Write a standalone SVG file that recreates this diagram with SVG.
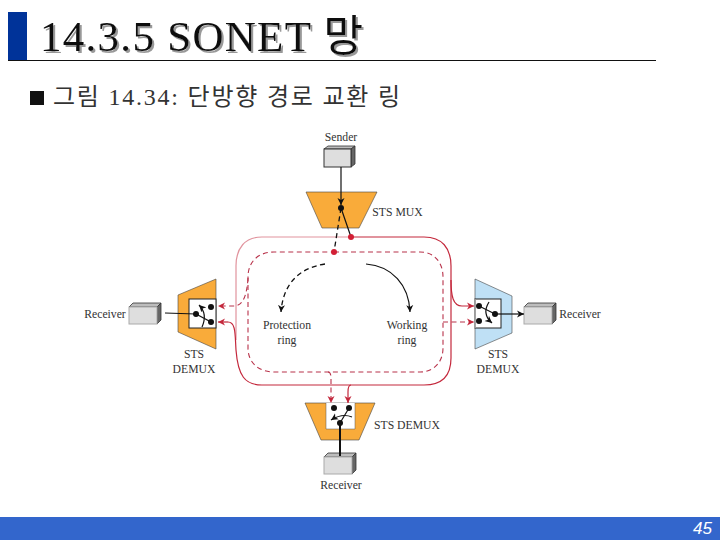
<svg xmlns="http://www.w3.org/2000/svg" width="720" height="540" viewBox="0 0 720 540">
<style>
.lb{font-family:"Liberation Serif",serif;font-size:11.7px;fill:#333;text-anchor:middle}
.ti{font-family:"Liberation Serif","Noto Sans CJK KR",serif;font-size:43px;fill:#111}
.su{font-family:"Liberation Serif","Noto Sans CJK KR",serif;font-size:24px;fill:#333}
.r{fill:none;stroke:#c4283c;stroke-width:1.2}
.rd{fill:none;stroke:#b8324a;stroke-width:1.1;stroke-dasharray:5 3.5}
.k{fill:none;stroke:#111;stroke-width:1.2}
.kd{fill:none;stroke:#111;stroke-width:1.3;stroke-dasharray:5 3.5}
.dot{fill:#111}
.rdot{fill:#d21f35}
.or{fill:#f9ab3a;stroke:#444;stroke-width:.6}
.wb{fill:#fff;stroke:#222;stroke-width:1}
.front{fill:#dedede;stroke:#333;stroke-width:1}
.top{fill:#bdbdbd;stroke:#333;stroke-width:.8}
.side{fill:#666;stroke:#333;stroke-width:.8}
</style>
<defs>
<marker id="ak" markerWidth="8" markerHeight="8" refX="7" refY="4" orient="auto" markerUnits="userSpaceOnUse"><path d="M0 0.5L7 4L0 7.5L2 4Z" fill="#111"/></marker>
<marker id="ar" markerWidth="8" markerHeight="8" refX="7" refY="4" orient="auto" markerUnits="userSpaceOnUse"><path d="M0 0.5L7 4L0 7.5L2 4Z" fill="#c4283c"/></marker>
<filter id="sh" x="-5%" y="-20%" width="110%" height="140%"><feDropShadow dx="2" dy="2" stdDeviation="0.6" flood-color="#999"/></filter>
</defs>

<g id="header">
<rect x="8" y="12" width="19" height="48" fill="#003399"/>
<line x1="8" y1="60.500" x2="656" y2="60.500" stroke="#111" stroke-width="1.200"/>
<text class="ti" x="40" y="51" textLength="323" lengthAdjust="spacing" filter="url(#sh)">14.3.5 SONET 망</text>
<rect x="30" y="91" width="14" height="14" fill="#111"/>
<text class="su" x="53" y="105" textLength="347" lengthAdjust="spacing">그림 14.34: 단방향 경로 교환 링</text>
</g>

<g id="sender">
<path class="top" d="M324 149L328 146H355L351 149Z"/><path class="side" d="M351 149L355 146V164L351 167Z"/><rect class="front" x="324" y="149" width="27" height="18"/>
<text class="lb" x="341" y="141">Sender</text>
</g>

<g id="sts-mux">
<path class="or" d="M306 192H377L359 228H322Z"/>
<text class="lb" x="397.500" y="216">STS MUX</text>
</g>

<g id="demux-left">
<path class="or" d="M178 295L216 279V349L178 332Z"/>
<rect class="wb" x="189" y="299" width="27" height="29"/>
<text class="lb" x="194" y="358">STS</text><text class="lb" x="194" y="373">DEMUX</text>
</g>
<g id="receiver-left">
<path class="top" d="M129 307L133 303H161L157 307Z"/><path class="side" d="M157 307L161 303V320L157 324Z"/><rect x="129" y="307" width="28" height="17" fill="#dedede" stroke="#aaa"/>
<text class="lb" x="105" y="318">Receiver</text>
</g>

<g id="demux-right">
<path d="M475 279L512 296V333L475 349Z" fill="#bfe0f5" stroke="#444" stroke-width=".6"/>
<rect class="wb" x="475" y="299" width="26" height="29"/>
<line x1="475" y1="299" x2="475" y2="328" stroke="#aaa" stroke-width="1.500"/>
<text class="lb" x="498" y="358">STS</text><text class="lb" x="498" y="373">DEMUX</text>
</g>
<g id="receiver-right">
<path class="top" d="M524 307L528 303H556L552 307Z"/><path class="side" d="M552 307L556 303V320L552 324Z"/><rect x="524" y="307" width="28" height="17" fill="#dedede" stroke="#aaa"/>
<text class="lb" x="580" y="318">Receiver</text>
</g>

<g id="demux-bottom">
<path class="or" d="M305 403H375L359 440H321Z"/>
<rect x="326" y="403" width="29" height="26" fill="#fff"/>
<path d="M326 403V429H355V403" fill="none" stroke="#555" stroke-width=".5"/>
<text class="lb" x="407" y="429">STS DEMUX</text>
</g>
<g id="receiver-bottom">
<path class="top" d="M324 457L328 453H356L352 457Z"/><path class="side" d="M352 457L356 453V470L352 474Z"/><rect x="324" y="457" width="28" height="17" fill="#dedede" stroke="#aaa"/>
<text class="lb" x="341" y="489">Receiver</text>
</g>

<g id="protection-ring"><text class="lb" x="287" y="329">Protection</text><text class="lb" x="287" y="344">ring</text></g>
<g id="working-ring"><text class="lb" x="407" y="329">Working</text><text class="lb" x="407" y="344">ring</text></g>

<g id="connectors">
<path class="r" d="M351 237H262C245 237 236 248 236 266V340" stroke-opacity=".5"/>
<path class="r" d="M351 237H424C442 237 451 248 451 266V358C451 376 442 385 424 385H262C245 385 238 376 236 350C235 335 236 322 228 322"/>
<path class="r" d="M228 322H218" marker-end="url(#ar)"/>
<path class="r" d="M451 280C451 296 453 306 462 306H474" marker-end="url(#ar)"/>
<path class="r" d="M351 385C349 385 348 388 348 392V403" marker-end="url(#ar)"/>
<path class="rd" d="M334 252H420C434 252 443 262 443 277V348C443 362 434 372 420 372H274C258 372 248 362 248 348V277C248 262 258 252 274 252H334"/>
<path class="rd" d="M248 278C247 295 243 306 234 306H218" marker-end="url(#ar)"/>
<path class="rd" d="M443 322H474" marker-end="url(#ar)"/>
<path class="rd" d="M328 372C331 372 331 376 331 380V403" marker-end="url(#ar)"/>
<line class="k" x1="341" y1="167" x2="341" y2="205" marker-end="url(#ak)"/>
<line class="k" x1="341" y1="208" x2="351" y2="237"/>
<line class="kd" x1="341" y1="208" x2="334" y2="252"/>
<path class="kd" d="M325 264C298 268 283 285 281 312" marker-end="url(#ak)"/>
<path class="k" d="M366 264C392 266 409 285 410 312" marker-end="url(#ak)"/>
<line class="k" x1="165" y1="313" x2="196" y2="314"/>
<path class="k" d="M196 314L211 322"/>
<path class="k" d="M202 327C206 318 205 311 199 305" marker-end="url(#ak)"/>
<path class="k" d="M479 306L495 314"/>
<path class="k" d="M489 302C484 310 485 317 492 323" marker-end="url(#ak)"/>
<line class="k" x1="495" y1="314" x2="524" y2="314" marker-end="url(#ak)"/>
<path class="k" d="M340 423L349 408"/>
<path class="k" d="M352 417C345 414 339 415 331 420" marker-end="url(#ak)"/>
<line x1="340" y1="423" x2="340" y2="456" stroke="#111" stroke-width="2"/>
<circle class="dot" cx="341" cy="208" r="3"/>
<circle class="rdot" cx="351" cy="237" r="3"/>
<circle class="rdot" cx="334" cy="252" r="3"/>
<circle class="dot" cx="211" cy="307" r="3"/><circle class="dot" cx="211" cy="322" r="3"/><circle class="dot" cx="196" cy="314" r="3"/>
<circle class="dot" cx="479" cy="306" r="3"/><circle class="dot" cx="479" cy="321" r="3"/><circle class="dot" cx="495" cy="314" r="3"/>
<circle class="dot" cx="334" cy="408" r="3"/><circle class="dot" cx="349" cy="408" r="3"/><circle class="dot" cx="340" cy="423" r="3"/>
</g>

<g id="footer">
<rect x="0" y="517" width="720" height="23" fill="#3366cc"/>
<text x="712" y="534" font-family="'Liberation Sans',sans-serif" font-style="italic" font-size="17" fill="#fff" text-anchor="end">45</text>
</g>
</svg>
